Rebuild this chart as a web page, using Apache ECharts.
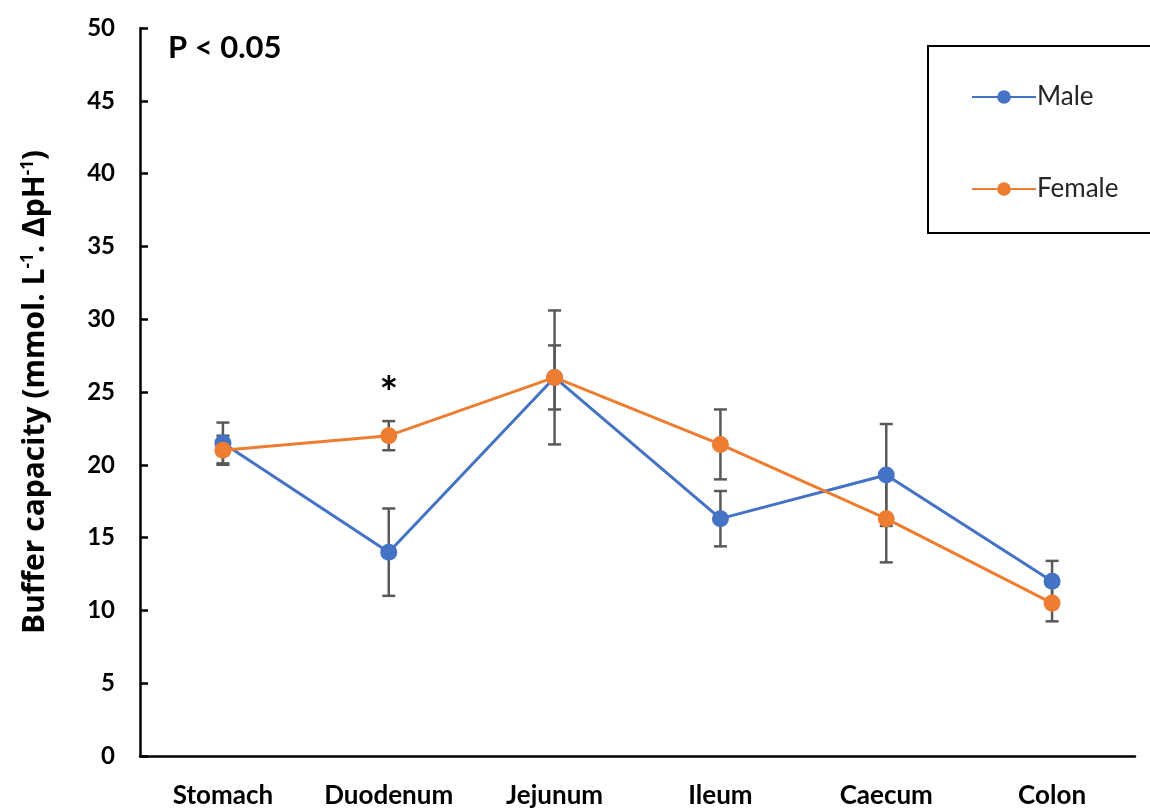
<!DOCTYPE html>
<html><head><meta charset="utf-8">
<script src="https://cdn.jsdelivr.net/npm/echarts@6/dist/echarts.min.js"></script>
<style>html,body{margin:0;padding:0;background:#fff}#c{width:1150px;height:810px}</style>
</head><body><div id="c"></div>
<script>
const categories = ['Stomach', 'Duodenum', 'Jejunum', 'Ileum', 'Caecum', 'Colon'];
const maleValues = [21.5, 14.0, 26.0, 16.3, 19.3, 12.0];
const maleErrors = [1.4, 3.0, 4.6, 1.9, 3.5, 1.4];
const femaleValues = [21.0, 22.0, 26.0, 21.4, 16.3, 10.5];
const femaleErrors = [1.0, 1.0, 2.2, 2.4, 3.0, 1.25];
const yTicks = [0, 5, 10, 15, 20, 25, 30, 35, 40, 45, 50];
const pText = 'P < 0.05';
const starMark = { category: 'Duodenum', value: 24.9, text: '*' };

const FONT = 'Lato, "Open Sans", sans-serif';
function errData(vals, errs) { return vals.map((v, i) => [i, v - errs[i], v + errs[i]]); }
function errRender(params, api) {
  const x = api.value(0);
  const lo = api.coord([x, api.value(1)]);
  const hi = api.coord([x, api.value(2)]);
  const w = 6.5;
  const st = { stroke: '#595959', lineWidth: 2.5 };
  return { type: 'group', children: [
    { type: 'line', shape: { x1: lo[0], y1: lo[1], x2: hi[0], y2: hi[1] }, style: st },
    { type: 'line', shape: { x1: lo[0] - w, y1: lo[1], x2: lo[0] + w, y2: lo[1] }, style: st },
    { type: 'line', shape: { x1: hi[0] - w, y1: hi[1], x2: hi[0] + w, y2: hi[1] }, style: st }
  ]};
}
const chart = echarts.init(document.getElementById('c'), null, { renderer: 'canvas' });
chart.setOption({
  animation: false,
  backgroundColor: '#fff',
  grid: { left: 140, right: 15, top: 28, bottom: 54, containLabel: false },
  legend: {
    orient: 'vertical', left: 966, top: 79, itemGap: 66,
    itemWidth: 64, itemHeight: 17,
    textStyle: { fontFamily: FONT, fontSize: 26, color: '#262626', padding: [0, 0, 0, -4] },
    data: ['Male', 'Female']
  },
  graphic: [
    { type: 'rect', shape: { x: 928, y: 46, width: 260, height: 187 }, style: { fill: 'none', stroke: '#000', lineWidth: 2 }, z: 100 },
    { type: 'text', left: 168, top: 32, style: { text: pText, fontFamily: FONT, fontWeight: 'bold', fontSize: 31, fill: '#000' } }
  ],
  xAxis: {
    type: 'category', data: categories, boundaryGap: true,
    axisLine: { lineStyle: { color: '#000', width: 2.5 } },
    axisTick: { show: false },
    axisLabel: { interval: 0, hideOverlap: false, fontFamily: FONT, fontWeight: 'bold', fontSize: 26, color: '#000', margin: 27 }
  },
  yAxis: {
    type: 'value', min: 0, max: 50, interval: 5,
    splitLine: { show: false },
    axisLine: { show: true, lineStyle: { color: '#000', width: 2.5 } },
    axisTick: { show: true, inside: true, length: 8, lineStyle: { color: '#000', width: 2.5 } },
    axisLabel: { fontFamily: FONT, fontWeight: 'bold', fontSize: 24, color: '#000', margin: 25,
      formatter: v => yTicks.includes(v) ? String(v) : '' },
    name: 'Buffer capacity (mmol. L{s|-1}. ΔpH{s|-1})',
    nameLocation: 'middle', nameGap: 90, nameRotate: 90,
    nameTextStyle: { fontFamily: '"Open Sans", Lato, sans-serif', fontWeight: 'bold', fontSize: 30, color: '#000',
      rich: { s: { fontFamily: '"Open Sans", Lato, sans-serif', fontWeight: 'bold', fontSize: 17, color: '#000', verticalAlign: 'top', padding: [0, 0, 10, 0] } } }
  },
  series: [
    { name: 'MaleErr', type: 'custom', renderItem: errRender, data: errData(maleValues, maleErrors), z: 1, silent: true },
    { name: 'FemaleErr', type: 'custom', renderItem: errRender, data: errData(femaleValues, femaleErrors), z: 1, silent: true },
    { name: 'Male', type: 'line', data: maleValues, symbol: 'circle', symbolSize: 17, z: 3,
      itemStyle: { color: '#4472C4' }, lineStyle: { color: '#4472C4', width: 3 } },
    { name: 'Female', type: 'line', data: femaleValues, symbol: 'circle', symbolSize: 17, z: 4,
      itemStyle: { color: '#ED7D31' }, lineStyle: { color: '#ED7D31', width: 3 },
      markPoint: { symbol: 'circle', symbolSize: 1, itemStyle: { color: 'rgba(0,0,0,0)' },
        label: { show: true, position: 'inside', formatter: starMark.text, fontFamily: FONT, fontWeight: 'bold', fontSize: 44, color: '#000' },
        data: [{ coord: [starMark.category, starMark.value] }] } }
  ]
});
</script></body></html>
